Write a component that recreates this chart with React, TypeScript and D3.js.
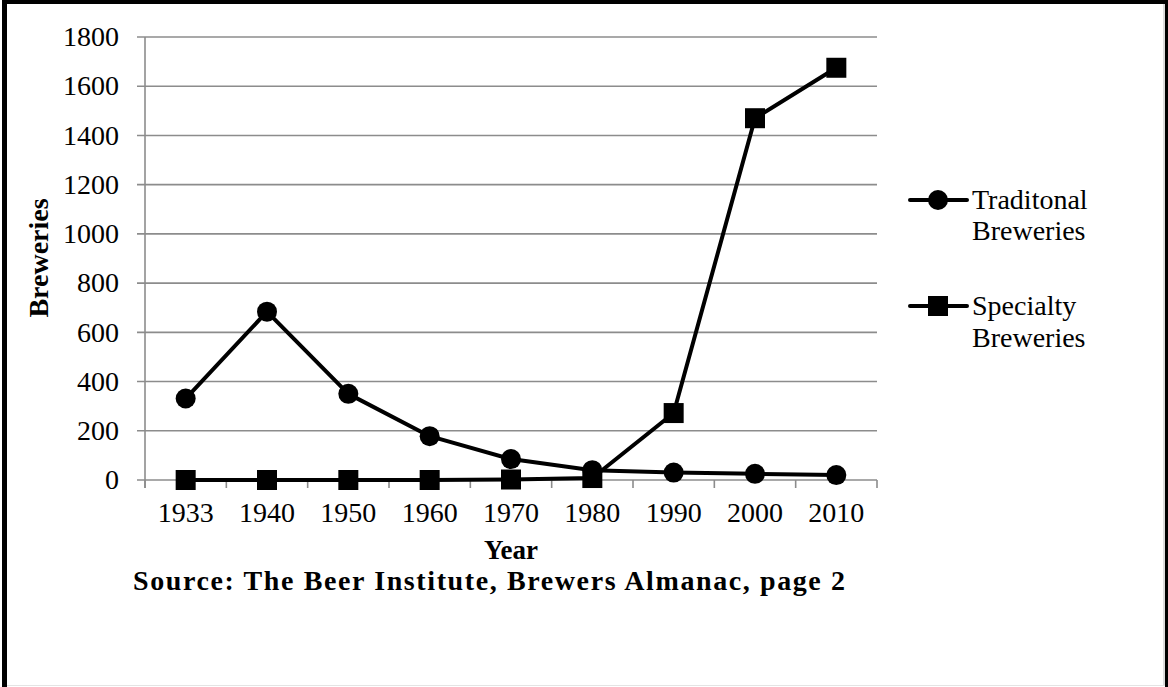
import React from "react";
import * as d3 from "d3";

const years = ["1933", "1940", "1950", "1960", "1970", "1980", "1990", "2000", "2010"];
const traditional = [331, 684, 350, 178, 85, 40, 30, 25, 20];
const specialty = [0, 0, 0, 0, 2, 8, 272, 1470, 1675];
const yTicks = [0, 200, 400, 600, 800, 1000, 1200, 1400, 1600, 1800];
const seriesNames = [["Traditonal", "Breweries"], ["Specialty", "Breweries"]];

const W = 1168;
const H = 687;
const left = 145;
const right = 877;
const top = 37;
const bottom = 480;
const font = "'Liberation Serif', 'Times New Roman', serif";

export default function App() {
  const x = d3.scaleBand<string>().domain(years).range([left, right]).padding(0);
  const y = d3.scaleLinear().domain([0, 1800]).range([bottom, top]);
  const cx = (d: string) => (x(d) as number) + x.bandwidth() / 2;
  const line = d3
    .line<number>()
    .x((_, i) => cx(years[i]))
    .y((v) => y(v));
  const grid = "#8c8c8c";
  const boundaries = d3.range(years.length + 1).map((i) => left + i * x.bandwidth());

  return (
    <svg
      width={W}
      height={H}
      style={{ position: "absolute", left: 0, top: 0, background: "#fff" }}
      fontFamily={font}
    >
      <rect x={0} y={0} width={W} height={H} fill="#fff" />
      {/* frame */}
      <rect x={2} y={0} width={5} height={H} fill="#000" />
      <rect x={2} y={0} width={W - 2} height={4} fill="#000" />
      <rect x={1165} y={0} width={3} height={H} fill="#000" />
      <line x1={7} x2={1165} y1={685.5} y2={685.5} stroke="#e4e4e4" strokeWidth={1} />
      <line x1={1164} x2={1164} y1={4} y2={685} stroke="#bbb" strokeWidth={1} />

      {/* gridlines */}
      {yTicks.map((t) => (
        <line key={t} x1={137} x2={right} y1={y(t)} y2={y(t)} stroke={grid} strokeWidth={1.6} />
      ))}
      <line x1={left} x2={left} y1={top} y2={488} stroke={grid} strokeWidth={1.6} />
      {boundaries.map((b, i) => (
        <line key={i} x1={b} x2={b} y1={bottom} y2={488} stroke={grid} strokeWidth={1.6} />
      ))}

      {/* y tick labels */}
      {yTicks.map((t) => (
        <text key={t} x={119} y={y(t)} dy="0.33em" textAnchor="end" fontSize={28} fill="#000">
          {t}
        </text>
      ))}
      {/* x tick labels */}
      {years.map((yr) => (
        <text key={yr} x={cx(yr)} y={522} textAnchor="middle" fontSize={28} fill="#000">
          {yr}
        </text>
      ))}

      {/* axis titles */}
      <text
        transform={`translate(48, 258) rotate(-90)`}
        textAnchor="middle"
        fontSize={28}
        fontWeight="bold"
        fill="#000"
      >
        Breweries
      </text>
      <text x={511} y={559} textAnchor="middle" fontSize={27} fontWeight="bold" fill="#000">
        Year
      </text>
      <text
        x={489}
        y={590}
        textAnchor="middle"
        fontSize={28}
        fontWeight="bold"
        fill="#000"
        textLength={712}
        lengthAdjust="spacing"
      >
        Source: The Beer Institute, Brewers Almanac, page 2
      </text>

      {/* series */}
      <path d={line(traditional) || ""} fill="none" stroke="#000" strokeWidth={4} strokeLinejoin="round" />
      <path d={line(specialty) || ""} fill="none" stroke="#000" strokeWidth={4} strokeLinejoin="round" />
      {traditional.map((v, i) => (
        <circle key={i} cx={cx(years[i])} cy={y(v)} r={10} fill="#000" />
      ))}
      {specialty.map((v, i) => (
        <rect key={i} x={cx(years[i]) - 10} y={y(v) - 10} width={20} height={20} fill="#000" />
      ))}

      {/* legend */}
      <g>
        <line x1={910} x2={967} y1={200} y2={200} stroke="#000" strokeWidth={4} strokeLinecap="round" />
        <circle cx={938} cy={200} r={10} fill="#000" />
        <text x={972} y={209} fontSize={28} fill="#000">{seriesNames[0][0]}</text>
        <text x={972} y={240} fontSize={28} fill="#000">{seriesNames[0][1]}</text>

        <line x1={910} x2={967} y1={306} y2={306} stroke="#000" strokeWidth={4} strokeLinecap="round" />
        <rect x={928} y={296} width={20} height={20} fill="#000" />
        <text x={972} y={315} fontSize={28} fill="#000">{seriesNames[1][0]}</text>
        <text x={972} y={347} fontSize={28} fill="#000">{seriesNames[1][1]}</text>
      </g>
    </svg>
  );
}
